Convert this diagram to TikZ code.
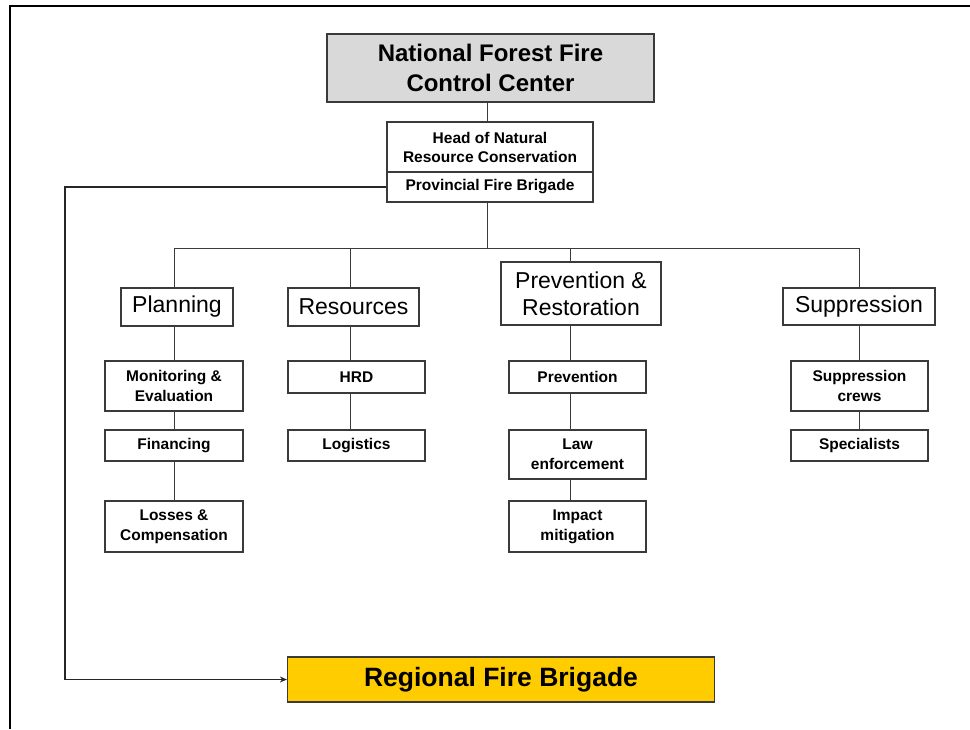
\documentclass[tikz,border=0pt]{standalone}
\usepackage{fontspec}
\setmainfont{Liberation Sans}
\usetikzlibrary{arrows.meta}
\definecolor{boxline}{HTML}{3A3A3A}
\definecolor{titlegray}{HTML}{D9D9D9}
\definecolor{regyellow}{HTML}{FFCC00}
\begin{document}
\begin{tikzpicture}[x=1pt,y=-1pt,
  box/.style={draw=boxline, line width=1.2pt, fill=white, inner sep=0pt, align=center,
    font=\bfseries\fontsize{15.5}{20}\selectfont},
  headbox/.style={box, font=\fontsize{23}{27}\selectfont},
  conn/.style={draw=boxline, line width=1pt},
  frameline/.style={draw=black, line width=2pt}]
\useasboundingbox (0,0) rectangle (970,729);
% slide frame
\draw[frameline] (10,729) -- (10,6) -- (970,6);

% top boxes
\node[box, fill=titlegray, minimum width=327pt, minimum height=68pt,
  font=\bfseries\fontsize{24}{30}\selectfont] (nffc) at (490.5,68) {National Forest Fire\\Control Center};
\node[box, minimum width=206pt, minimum height=50pt, font=\bfseries\fontsize{15.5}{19}\selectfont]
  (head) at (490,147) {Head of Natural\\Resource Conservation};
\node[box, minimum width=206pt, minimum height=30pt] (prov) at (490,187) {Provincial Fire Brigade};

% column coordinates
\coordinate (cN) at (487,248);
\coordinate (cA) at (174,248);
\coordinate (cB) at (350,248);
\coordinate (cC) at (570,248);
\coordinate (cD) at (859,248);
\coordinate (lft) at (65,187);

% second level
\node[headbox, minimum width=112pt, minimum height=38pt] (planning) at (177,307) {Planning};
\node[headbox, minimum width=131pt, minimum height=38pt] (resources) at (353.5,307) {Resources};
\node[headbox, minimum width=160pt, minimum height=63pt] (prevrest) at (581,293.5) {Prevention \&\\Restoration};
\node[headbox, minimum width=152pt, minimum height=37pt] (suppression) at (859,306.5) {Suppression};

% third level
\node[box, minimum width=138pt, minimum height=50pt] (monitoring) at (174,386) {Monitoring \&\\Evaluation};
\node[box, minimum width=138pt, minimum height=31pt] (financing) at (174,445.5) {Financing};
\node[box, minimum width=138pt, minimum height=51pt] (losses) at (174,526.5) {Losses \&\\Compensation};

\node[box, minimum width=137pt, minimum height=32pt] (hrd) at (356.5,377) {HRD};
\node[box, minimum width=137pt, minimum height=31pt] (logistics) at (356.5,445.5) {Logistics};

\node[box, minimum width=137pt, minimum height=32pt] (prevention) at (577.5,377) {Prevention};
\node[box, minimum width=137pt, minimum height=49pt] (law) at (577.5,454.5) {Law\\enforcement};
\node[box, minimum width=137pt, minimum height=51pt] (impact) at (577.5,526.5) {Impact\\mitigation};

\node[box, minimum width=137pt, minimum height=50pt] (crews) at (859.5,386) {Suppression\\crews};
\node[box, minimum width=137pt, minimum height=31pt] (specialists) at (859.5,445.5) {Specialists};

\node[box, fill=regyellow, minimum width=427pt, minimum height=45pt,
  font=\bfseries\fontsize{26.5}{30}\selectfont] (regional) at (501,679.5) {Regional Fire Brigade};

% connectors
\draw[conn] (nffc.south -| cN) -- (head.north -| cN);
\draw[conn] (prov.south -| cN) -- (cN);
\draw[conn] (cA) -- (cD);
\draw[conn] (cA) -- (cA |- planning.north);
\draw[conn] (cB) -- (cB |- resources.north);
\draw[conn] (cC) -- (cC |- prevrest.north);
\draw[conn] (cD) -- (cD |- suppression.north);

\draw[conn] (cA |- planning.south) -- (cA |- monitoring.north);
\draw[conn] (cA |- monitoring.south) -- (cA |- financing.north);
\draw[conn] (cA |- financing.south) -- (cA |- losses.north);

\draw[conn] (cB |- resources.south) -- (cB |- hrd.north);
\draw[conn] (cB |- hrd.south) -- (cB |- logistics.north);

\draw[conn] (cC |- prevrest.south) -- (cC |- prevention.north);
\draw[conn] (cC |- prevention.south) -- (cC |- law.north);
\draw[conn] (cC |- law.south) -- (cC |- impact.north);

\draw[conn] (cD |- suppression.south) -- (cD |- crews.north);
\draw[conn] (cD |- crews.south) -- (cD |- specialists.north);

\draw[draw=black!85, line width=1.4pt, -{Stealth[length=7pt,width=6pt]}]
  (prov.west) -- (lft) |- (regional.west);
\end{tikzpicture}
\end{document}
